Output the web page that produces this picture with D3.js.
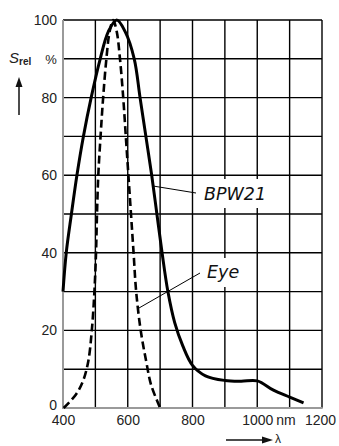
<!DOCTYPE html>
<html><head><meta charset="utf-8">
<script src="https://cdn.jsdelivr.net/npm/d3@7"></script>
<style>body{margin:0;background:#fff}svg{display:block}</style>
</head><body><svg id="c" width="339" height="446"></svg>
<script>
const bpw21 = [[400,30],[410,40],[426,50],[443,60],[463,70],[487,80],[515,90],[540,97],[566,100],[592,97],[620,90],[638,80],[656,70],[674,60],[690,50],[706,40],[724,30],[745,22],[770,16],[800,11],[840,8.3],[900,7.1],[950,6.9],[1000,7],[1050,4.6],[1100,2.8],[1143,1.3]];
const eye = [[402,0],[440,3.5],[462,7],[478,12],[489,20],[497,30],[502,40],[505,50],[509,60],[516,70],[524,80],[534,90],[544,97],[555,100],[566,97],[576,90],[586,80],[594,70],[602,60],[610,50],[618,40],[626,30],[640,20],[657,12],[672,6],[700,0]];
const xGrid = [400,500,600,700,800,900,1000,1100,1200];
const yGrid = [0,10,20,30,40,50,60,70,80,90,100];
const xTicks = [400,600,800,1000,1200];
const yTicks = [0,20,40,60,80,100];

const svg = d3.select("#c");
const x = d3.scaleLinear([400,1200],[63,322]);
const y = d3.scaleLinear([0,100],[408,20]);
const font = "'Liberation Sans', Arial, sans-serif";

// grid
svg.append("g").selectAll("line").data(xGrid.slice(1)).join("line")
  .attr("x1",d=>x(d)).attr("x2",d=>x(d)).attr("y1",y(0)).attr("y2",y(100))
  .attr("stroke","#000").attr("stroke-width",1.4);
svg.append("g").selectAll("line").data(yGrid.slice(1)).join("line")
  .attr("x1",x(400)).attr("x2",x(1200)).attr("y1",d=>y(d)).attr("y2",d=>y(d))
  .attr("stroke","#000").attr("stroke-width",1.4);
// left & bottom axes (grey)
svg.append("line").attr("x1",x(400)).attr("x2",x(400)).attr("y1",y(0)+1).attr("y2",y(100))
  .attr("stroke","#9a9a9a").attr("stroke-width",2);
svg.append("line").attr("x1",x(400)).attr("x2",x(1200)+0.7).attr("y1",y(0)).attr("y2",y(0))
  .attr("stroke","#9a9a9a").attr("stroke-width",2);

// label backgrounds
svg.append("rect").attr("x",201).attr("y",179).attr("width",68).attr("height",29).attr("fill","#fff");
svg.append("rect").attr("x",204).attr("y",258).attr("width",42).attr("height",29).attr("fill","#fff");

// curves
const line = d3.line().x(d=>x(d[0])).y(d=>y(d[1])).curve(d3.curveCatmullRom.alpha(0.5));
svg.append("path").attr("d",line(eye)).attr("fill","none").attr("stroke","#000")
  .attr("stroke-width",2.6).attr("stroke-dasharray","8,4");
svg.append("path").attr("d",line(bpw21)).attr("fill","none").attr("stroke","#000")
  .attr("stroke-width",3).attr("stroke-linejoin","round");

// leaders
svg.append("line").attr("x1",x(678)).attr("y1",186).attr("x2",196).attr("y2",193).attr("stroke","#000").attr("stroke-width",1);
svg.append("line").attr("x1",139).attr("y1",308).attr("x2",200).attr("y2",273).attr("stroke","#000").attr("stroke-width",1);
svg.append("text").attr("x",204).attr("y",200).attr("font-family","'DejaVu Sans', sans-serif")
  .attr("font-style","italic").attr("font-size",17.5).attr("fill","#111").text("BPW21");
svg.append("text").attr("x",207).attr("y",278).attr("font-family","'DejaVu Sans', sans-serif")
  .attr("font-style","italic").attr("font-size",17.5).attr("fill","#111").text("Eye");

// axis tick labels via d3 axes
const xa = svg.append("g").attr("transform",`translate(0,${y(0)})`)
  .call(d3.axisBottom(x).tickValues(xTicks).tickSize(0).tickPadding(7).tickFormat(d3.format("d")));
xa.select(".domain").remove();
xa.selectAll("text").attr("font-family",font).attr("font-size",14).attr("fill","#222");
xa.selectAll("text").filter(d=>d===1200).attr("dx",-2);
const ya = svg.append("g").attr("transform",`translate(${x(400)},0)`)
  .call(d3.axisLeft(y).tickValues(yTicks).tickSize(0).tickPadding(6).tickFormat(d3.format("d")));
ya.select(".domain").remove();
ya.selectAll("text").attr("font-family",font).attr("font-size",14).attr("fill","#222");
ya.selectAll("text").filter(d=>d===0).attr("dy","0.1em");

svg.append("text").attr("x",286).attr("y",425).attr("text-anchor","middle")
  .attr("font-family",font).attr("font-size",14).attr("fill","#222").text("nm");
svg.append("text").attr("x",51).attr("y",y(90)+5).attr("text-anchor","middle")
  .attr("font-family",font).attr("font-size",13).attr("fill","#222").text("%");

// S_rel
const st = svg.append("text").attr("x",9).attr("y",63).attr("font-family",font).attr("fill","#222");
st.append("tspan").attr("font-style","italic").attr("font-size",15).text("S");
st.append("tspan").attr("font-size",10).attr("dy",2).attr("font-weight","bold").text("rel");
// arrows
svg.append("line").attr("x1",19).attr("x2",19).attr("y1",115).attr("y2",85).attr("stroke","#111").attr("stroke-width",1.5);
svg.append("path").attr("d","M15.5,87 L19,77 L22.5,87 Z").attr("fill","#111");
svg.append("line").attr("x1",226).attr("x2",264).attr("y1",440).attr("y2",440).attr("stroke","#111").attr("stroke-width",1.5);
svg.append("path").attr("d","M262,436.5 L273,440 L262,443.5 Z").attr("fill","#111");
svg.append("text").attr("x",275).attr("y",443).attr("font-family",font).attr("font-size",12).attr("fill","#222").text("λ");
</script></body></html>
